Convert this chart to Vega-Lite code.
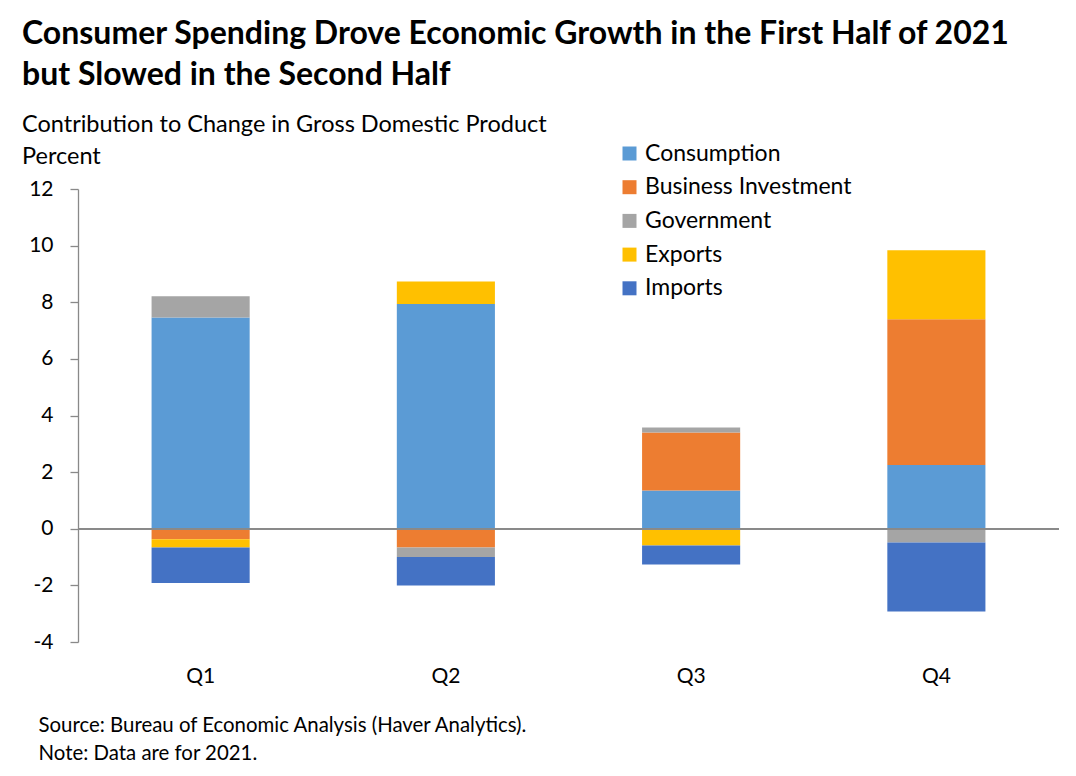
{
  "$schema": "https://vega.github.io/schema/vega-lite/v6.json",
  "autosize": {"type": "none"},
  "padding": {"left": 78, "top": 189, "right": 17, "bottom": 134},
  "width": 981,
  "height": 453,
  "background": "white",
  "config": {
    "font": "Lato",
    "view": {"stroke": null}
  },
  "title": {
    "text": ["Consumer Spending Drove Economic Growth in the First Half of 2021", "but Slowed in the Second Half"],
    "subtitle": ["Contribution to Change in Gross Domestic Product", "Percent"],
    "anchor": "start",
    "frame": "group",
    "dx": -56,
    "fontSize": 32,
    "fontWeight": "bold",
    "lineHeight": 41,
    "color": "black",
    "subtitleFontSize": 23.5,
    "subtitleLineHeight": 32,
    "subtitleColor": "black",
    "subtitlePadding": 21,
    "offset": -27
  },
  "data": {
    "values": [
      {"quarter": "Q1", "component": "Consumption", "value": 7.46, "rank": 1},
      {"quarter": "Q1", "component": "Business Investment", "value": -0.37, "rank": 2},
      {"quarter": "Q1", "component": "Government", "value": 0.75, "rank": 3},
      {"quarter": "Q1", "component": "Exports", "value": -0.29, "rank": 4},
      {"quarter": "Q1", "component": "Imports", "value": -1.26, "rank": 5},
      {"quarter": "Q2", "component": "Consumption", "value": 7.94, "rank": 1},
      {"quarter": "Q2", "component": "Business Investment", "value": -0.66, "rank": 2},
      {"quarter": "Q2", "component": "Government", "value": -0.34, "rank": 3},
      {"quarter": "Q2", "component": "Exports", "value": 0.79, "rank": 4},
      {"quarter": "Q2", "component": "Imports", "value": -1.0, "rank": 5},
      {"quarter": "Q3", "component": "Consumption", "value": 1.35, "rank": 1},
      {"quarter": "Q3", "component": "Business Investment", "value": 2.05, "rank": 2},
      {"quarter": "Q3", "component": "Government", "value": 0.18, "rank": 3},
      {"quarter": "Q3", "component": "Exports", "value": -0.59, "rank": 4},
      {"quarter": "Q3", "component": "Imports", "value": -0.67, "rank": 5},
      {"quarter": "Q4", "component": "Consumption", "value": 2.25, "rank": 1},
      {"quarter": "Q4", "component": "Business Investment", "value": 5.15, "rank": 2},
      {"quarter": "Q4", "component": "Government", "value": -0.49, "rank": 3},
      {"quarter": "Q4", "component": "Exports", "value": 2.44, "rank": 4},
      {"quarter": "Q4", "component": "Imports", "value": -2.43, "rank": 5}
    ]
  },
  "layer": [
    {
      "mark": {"type": "bar"},
      "encoding": {
        "x": {
          "field": "quarter",
          "type": "nominal",
          "sort": ["Q1", "Q2", "Q3", "Q4"],
          "scale": {"paddingInner": 0.6, "paddingOuter": 0.3},
          "axis": {
            "labelAngle": 0,
            "domain": false,
            "ticks": false,
            "labelFontSize": 21,
            "labelColor": "black",
            "labelPadding": 23,
            "title": ["Source: Bureau of Economic Analysis (Haver Analytics).", "Note: Data are for 2021."],
            "titleFontSize": 20.4,
            "titleFontWeight": "normal",
            "titleColor": "black",
            "titleAlign": "left",
            "titleAnchor": "start",
            "titleBaseline": "top",
            "titleX": -40,
            "titleY": 73,
            "titleLineHeight": 28
          }
        },
        "y": {
          "field": "value",
          "type": "quantitative",
          "stack": "zero",
          "scale": {"domain": [-4, 12], "nice": false},
          "axis": {
            "values": [-4, -2, 0, 2, 4, 6, 8, 10, 12],
            "labelExpr": "datum.value + ''",
            "grid": false,
            "title": null,
            "domainColor": "#898989",
            "domainWidth": 1.3,
            "tickColor": "#898989",
            "tickWidth": 1.3,
            "tickSize": 8,
            "labelFontSize": 21,
            "labelColor": "black",
            "labelPadding": 17
          }
        },
        "color": {
          "field": "component",
          "type": "nominal",
          "scale": {
            "domain": ["Consumption", "Business Investment", "Government", "Exports", "Imports"],
            "range": ["#5B9BD5", "#ED7D31", "#A5A5A5", "#FFC000", "#4472C4"]
          },
          "legend": {
            "title": null,
            "orient": "none",
            "legendX": 540,
            "legendY": -47,
            "symbolType": "square",
            "symbolSize": 196,
            "symbolStrokeWidth": 0,
            "labelFontSize": 23,
            "labelColor": "black",
            "labelOffset": 4,
            "rowPadding": 9.7,
            "padding": 0,
            "labelLimit": 400
          }
        },
        "order": {"field": "rank", "type": "quantitative"}
      }
    },
    {
      "mark": {"type": "rule", "color": "#898989", "strokeWidth": 1.5},
      "encoding": {"y": {"datum": 0}}
    }
  ]
}
